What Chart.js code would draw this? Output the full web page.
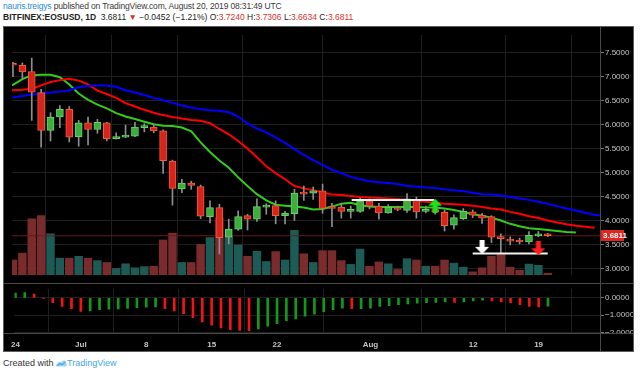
<!DOCTYPE html>
<html>
<head>
<meta charset="utf-8">
<script src="https://cdn.jsdelivr.net/npm/chart.js@4.4.1/dist/chart.umd.min.js"></script>
<style>
  html, body { margin: 0; padding: 0; background: #fff; }
  body { width: 640px; height: 374px; position: relative; overflow: hidden; font-family: "Liberation Sans", Arial, sans-serif; }
  .txt { position: absolute; left: 3px; white-space: nowrap; color: #3a3a3a; font-size: 8.5px; }
  #h1 { top: 1px; letter-spacing: -0.15px; }
  #h2 { top: 12px; color: #222; }
  #h2 b { font-weight: bold; }
  .u { color: #2a8ad6; }
  .r { color: #e0302a; }
  #frame { position: absolute; left: 3px; top: 26px; width: 629px; height: 324px; background: #000; border: 1px solid #5c5c5c; }
  canvas { position: absolute; left: 4px; }
  #price { top: 27px; }
  #macd { top: 283px; }
  .sep { position: absolute; background: #4a4a4a; }
  #foot { top: 358px; font-size: 9px; color: #333; }
  #foot .tv { color: #44a6e4; }
</style>
</head>
<body>
<div id="h1" class="txt"><span class="u">nauris.treigys</span> published on TradingView.com, August 20, 2019 08:31:49 UTC</div>
<div id="h2" class="txt"><b>BITFINEX:EOSUSD, 1D</b>&nbsp; 3.6811 <span class="r">&#9660;</span> &minus;0.0452 (&minus;1.21%) O:<span class="r">3.7240</span> H:<span class="r">3.7306</span> L:<span class="r">3.6634</span> C:<span class="r">3.6811</span></div>
<div id="frame"></div>
<canvas id="price" width="629" height="256"></canvas>
<canvas id="macd" width="629" height="68"></canvas>
<div class="sep" style="left:4px; top:283px; width:629px; height:1px;"></div>
<div class="sep" style="left:4px; top:333px; width:629px; height:1px;"></div>
<div class="sep" style="left:600px; top:27px; width:1px; height:324px;"></div>
<div id="foot" class="txt">Created with <svg width="11" height="8" viewBox="0 0 11 8" style="vertical-align:-1px"><path d="M1 7.5 C-0.5 7.5 -0.3 4.6 1.6 4.8 C1.8 2.6 4.4 2.2 5.2 3.8 C6 0.4 10.6 0.8 10.2 4.4 C11.4 5 11 7.5 9.6 7.5 Z" fill="#9fd3f2"/><path d="M1.5 6.5 L4 4.5 L6 5.8 L9.5 2.8" stroke="#44a6e4" stroke-width="1.1" fill="none"/></svg><span class="tv">TradingView</span></div>

<script>
// daily candles, day 0 = 24 Jun 2019
const openP  = [7.28,7.24,7.11,6.67,5.88,6.16,6.32,5.75,6.04,5.90,6.04,5.71,5.74,5.76,5.94,5.95,5.87,5.24,4.66,4.78,4.71,4.08,4.27,3.65,3.82,4.10,4.03,4.28,4.31,4.10,4.14,4.58,4.57,4.62,4.28,4.28,4.19,4.19,4.41,4.30,4.16,4.27,4.21,4.44,4.19,4.23,4.17,3.90,4.04,4.18,4.11,4.08,3.66,3.61,3.59,3.55,3.68,3.724];
const highP  = [7.30,7.29,7.39,6.74,6.25,6.40,6.38,6.09,6.16,6.11,6.05,5.83,5.99,6.05,6.02,6.00,5.89,5.26,4.86,4.82,4.74,4.41,4.34,4.03,4.20,4.13,4.45,4.35,4.41,4.19,4.65,4.72,4.70,4.76,4.36,4.36,4.30,4.47,4.45,4.36,4.33,4.30,4.56,4.49,4.30,4.25,4.22,4.12,4.25,4.22,4.15,4.10,3.72,3.66,3.63,3.77,3.77,3.7306];
const lowP   = [7.00,6.95,6.09,5.53,5.66,5.94,5.64,5.55,5.58,5.82,5.66,5.70,5.73,5.75,5.85,5.83,4.98,4.32,4.58,4.65,4.04,3.95,3.30,3.51,3.80,3.80,3.98,4.13,3.93,3.93,4.00,4.42,4.44,4.15,3.87,4.05,4.05,4.17,4.24,4.03,4.15,4.20,4.17,4.05,4.16,4.13,3.78,3.82,4.02,4.06,3.94,3.54,3.31,3.49,3.51,3.51,3.66,3.6634];
const closeP = [7.24,7.10,6.68,5.88,6.16,6.32,5.74,6.04,5.90,6.05,5.71,5.74,5.77,5.95,5.96,5.87,5.25,4.67,4.78,4.73,4.09,4.27,3.64,3.82,4.08,4.03,4.29,4.31,4.10,4.15,4.57,4.55,4.62,4.25,4.25,4.19,4.21,4.41,4.30,4.16,4.28,4.23,4.45,4.18,4.23,4.18,3.89,4.06,4.19,4.11,4.05,3.65,3.62,3.57,3.55,3.69,3.72,3.6811];
const volume = [16.3,23.7,60.3,63.7,44.3,18.3,18.3,20.3,18.3,15.7,13.7,7.3,12.3,8,9.3,9.7,37.7,45,13.7,13.7,33,40.3,61,41,32.3,20.3,25.7,14.7,25.3,16.3,48,23,13.7,26.3,26.3,15.7,11.7,28,9.7,14.3,12.3,6.3,17.7,16.3,9.7,9.7,16.3,13,8.7,3.7,8,20.3,22.3,8.7,5.3,12,10.7,2.3];
const macdHist = [0.28,0.30,0.21,-0.02,-0.28,-0.49,-0.63,-0.78,-0.75,-0.68,-0.66,-0.64,-0.61,-0.57,-0.54,-0.52,-0.63,-0.75,-0.92,-1.15,-1.39,-1.58,-1.74,-1.84,-1.88,-1.89,-1.79,-1.63,-1.49,-1.32,-1.22,-1.06,-0.95,-0.80,-0.68,-0.60,-0.63,-0.62,-0.60,-0.49,-0.45,-0.40,-0.35,-0.31,-0.28,-0.26,-0.23,-0.26,-0.23,-0.18,-0.14,-0.18,-0.23,-0.28,-0.40,-0.49,-0.52,-0.48];

// alligator lines (shifted forward), each starting at day -1
const maStart = -1;
const lips  = [6.76,6.83,6.95,7.03,7.04,7.04,6.99,6.84,6.65,6.52,6.42,6.34,6.24,6.17,6.12,6.06,6.01,5.98,5.97,5.94,5.86,5.63,5.43,5.25,5.10,4.90,4.72,4.55,4.42,4.33,4.31,4.29,4.27,4.23,4.24,4.29,4.35,4.37,4.32,4.29,4.28,4.28,4.28,4.28,4.28,4.27,4.27,4.25,4.22,4.18,4.13,4.10,4.06,4.00,3.93,3.88,3.84,3.82,3.80,3.78,3.76,3.75];
const teeth = [6.72,6.72,6.73,6.75,6.82,6.89,6.93,6.96,6.92,6.84,6.71,6.64,6.56,6.45,6.38,6.31,6.25,6.20,6.16,6.13,6.10,6.08,6.03,5.91,5.80,5.66,5.50,5.32,5.13,4.99,4.86,4.72,4.67,4.63,4.59,4.54,4.53,4.51,4.49,4.48,4.47,4.46,4.45,4.43,4.41,4.39,4.37,4.35,4.34,4.33,4.31,4.28,4.25,4.23,4.18,4.14,4.09,4.05,4.00,3.96,3.92,3.89,3.87,3.85];
const jaw   = [6.54,6.57,6.60,6.63,6.65,6.67,6.69,6.72,6.78,6.81,6.82,6.82,6.79,6.72,6.67,6.62,6.56,6.51,6.46,6.40,6.36,6.32,6.30,6.29,6.26,6.17,6.02,5.92,5.84,5.73,5.62,5.49,5.37,5.26,5.16,5.06,4.99,4.91,4.86,4.82,4.80,4.78,4.76,4.72,4.71,4.69,4.68,4.65,4.63,4.61,4.58,4.55,4.54,4.52,4.49,4.46,4.43,4.39,4.35,4.30,4.25,4.21,4.16,4.12,4.09];

// axis ticks
const tickDays   = [0, 7, 14, 21, 28, 38, 49, 56];
const tickLabels = ['24', 'Jul', '8', '15', '22', 'Aug', '12', '19'];
const priceTicks = [3.0, 3.5, 4.0, 4.5, 5.0, 5.5, 6.0, 6.5, 7.0, 7.5];
const macdTicks  = [0, -1, -2];

// drawings on the chart
const levelFrom  = [36.1, 49.0];
const levelTo    = [44.9, 57.0];
const levelPrice = [4.43, 3.31];
const arrowDays   = [45, 50, 56];
const arrowPrices = [4.31, 3.45, 3.42];

const X_MIN = -0.105, X_MAX = 62.57;
const GRID = '#1f1f1f';
const LABEL = '#c4c4c4';
const UP = '#3dae3d', UP_EDGE = '#63d763';
const DOWN = '#d8231b', DOWN_EDGE = '#ef5f3c';

Chart.defaults.font.family = '"Liberation Sans", Arial, sans-serif';
Chart.defaults.font.size = 8;

const isUp = i => closeP[i] >= openP[i];
const lastClose = closeP[closeP.length - 1];

function arrowImg(color, down) {
    const c = document.createElement('canvas');
    c.width = 14; c.height = 14;
    const g = c.getContext('2d');
    if (down) { g.translate(0, 14); g.scale(1, -1); }
    g.fillStyle = color;
    g.beginPath();
    g.moveTo(7, 0); g.lineTo(14, 7); g.lineTo(9.5, 7); g.lineTo(9.5, 14);
    g.lineTo(4.5, 14); g.lineTo(4.5, 7); g.lineTo(0, 7);
    g.closePath();
    g.fill();
    return c;
}
const arrowStyles = [arrowImg('#1fe01f', false), arrowImg('#ffffff', true), arrowImg('#ff1e1e', true)];

const maLine = (vals, color) => ({
    type: 'line',
    data: vals.map((v, k) => ({ x: maStart + k, y: v })),
    borderColor: color,
    borderWidth: 2,
    pointRadius: 0,
    tension: 0,
    order: 8
});

const xTicks = s => { s.ticks = tickDays.map(v => ({ value: v })); };

const lastTag = {
    id: 'lastTag',
    afterDraw(chart) {
        const { ctx, chartArea } = chart;
        const y = Math.round(chart.scales.y.getPixelForValue(lastClose));
        ctx.save();
        ctx.fillStyle = '#e1261f';
        ctx.fillRect(chartArea.right, y - 6, 24, 11);
        ctx.fillStyle = '#fff';
        ctx.font = 'bold 8px "Liberation Sans", Arial, sans-serif';
        ctx.textBaseline = 'middle';
        ctx.fillText(lastClose.toFixed(4), chartArea.right + 3, y);
        ctx.restore();
    }
};

new Chart(document.getElementById('price').getContext('2d'), {
    type: 'bar',
    data: {
        datasets: [
            {
                yAxisID: 'yv',
                data: volume.map((v, i) => ({ x: i, y: v })),
                backgroundColor: volume.map((v, i) => isUp(i) ? '#1d5b56' : '#7a2c2c'),
                grouped: false,
                categoryPercentage: 1,
                barPercentage: 0.9,
                order: 10
            },
            {
                type: 'line',
                data: [{ x: X_MIN, y: lastClose }, { x: X_MAX, y: lastClose }],
                borderColor: '#6a1a1a',
                borderWidth: 1,
                pointRadius: 0,
                order: 9
            },
            maLine(jaw, '#0000ff'),
            maLine(teeth, '#ff0000'),
            maLine(lips, '#33cc1a'),
            {
                data: lowP.map((v, i) => ({ x: i, y: [v, highP[i]] })),
                backgroundColor: '#8e8e8e',
                barThickness: 1,
                grouped: false,
                order: 6
            },
            {
                data: openP.map((v, i) => ({ x: i, y: [v, closeP[i]] })),
                backgroundColor: openP.map((v, i) => isUp(i) ? UP : DOWN),
                borderColor: openP.map((v, i) => isUp(i) ? UP_EDGE : DOWN_EDGE),
                borderWidth: 1,
                borderSkipped: false,
                barThickness: 7,
                minBarLength: 2,
                grouped: false,
                order: 5
            },
            ...levelPrice.map((p, k) => ({
                type: 'line',
                data: [{ x: levelFrom[k], y: p }, { x: levelTo[k], y: p }],
                borderColor: '#f2f2f2',
                borderWidth: 2,
                pointRadius: 0,
                order: 4
            })),
            {
                type: 'line',
                data: arrowDays.map((d, k) => ({ x: d, y: arrowPrices[k] })),
                showLine: false,
                pointStyle: arrowStyles,
                pointRadius: 7,
                order: 3
            }
        ]
    },
    options: {
        responsive: false,
        animation: false,
        layout: { padding: 0 },
        plugins: { legend: { display: false }, tooltip: { enabled: false } },
        scales: {
            x: {
                type: 'linear', min: X_MIN, max: X_MAX, offset: false,
                afterBuildTicks: xTicks,
                ticks: { display: false },
                grid: { color: GRID, drawTicks: false },
                border: { display: false }
            },
            y: {
                position: 'right', min: 2.862, max: 7.872,
                afterBuildTicks: s => { s.ticks = priceTicks.map(v => ({ value: v })); },
                afterFit: s => { s.width = 33; },
                ticks: { color: LABEL, padding: 1, callback: v => v.toFixed(4) },
                grid: { color: GRID, tickColor: '#777', tickLength: 4 },
                border: { display: false }
            },
            yv: { display: false, min: 0, max: 256 }
        }
    },
    plugins: [lastTag]
});

const clipCorner = {
    id: 'clipCorner',
    afterDraw(chart) {
        const { ctx, chartArea, width, height } = chart;
        ctx.save();
        ctx.fillStyle = '#000';
        ctx.fillRect(chartArea.right + 1, chartArea.bottom, width, height);
        ctx.restore();
    }
};

new Chart(document.getElementById('macd').getContext('2d'), {
    type: 'bar',
    data: {
        datasets: [{
            data: macdHist.map((v, i) => ({ x: i, y: v })),
            backgroundColor: macdHist.map((v, i) => (i === 0 || v >= macdHist[i - 1]) ? '#12991a' : '#f21414'),
            barThickness: 2,
            grouped: false
        }]
    },
    options: {
        responsive: false,
        animation: false,
        layout: { padding: { top: 1 } },
        plugins: { legend: { display: false }, tooltip: { enabled: false } },
        scales: {
            x: {
                type: 'linear', min: X_MIN, max: X_MAX, offset: false,
                afterBuildTicks: xTicks,
                afterFit: s => { s.height = 18; },
                ticks: {
                    color: LABEL, padding: 7, maxRotation: 0, autoSkip: false,
                    font: { weight: 'bold' },
                    callback: (v, i) => tickLabels[i]
                },
                grid: { color: GRID, drawTicks: false },
                border: { display: false }
            },
            y: {
                position: 'right', min: -2.031, max: 0.521,
                afterBuildTicks: s => { s.ticks = macdTicks.map(v => ({ value: v })); },
                afterFit: s => { s.width = 33; },
                ticks: { color: LABEL, padding: 1, callback: v => v.toFixed(4).replace('-', '\u2212') },
                grid: { color: GRID, tickColor: '#777', tickLength: 4 },
                border: { display: false }
            }
        }
    },
    plugins: [clipCorner]
});
</script>
</body>
</html>
